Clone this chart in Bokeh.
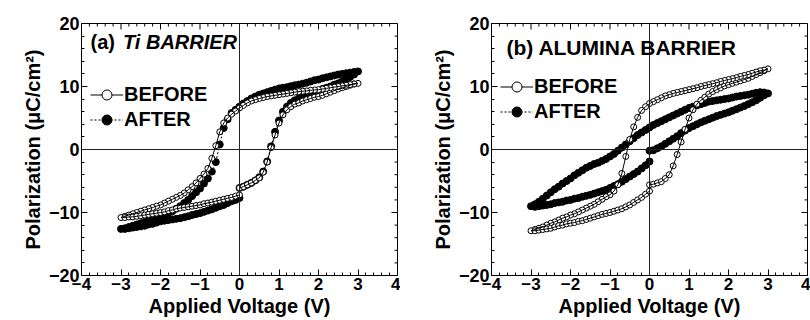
from bokeh.plotting import figure
from bokeh.models import Range1d, Span, FixedTicker, Label, Legend, LegendItem
from bokeh.layouts import row
from bokeh.embed import file_html
from bokeh.resources import INLINE

# ---------------- data (voltage sweep 0 -> +3 -> -3 -> 0, step 0.1 V) ----------------
V_UP = [0.0, 0.1, 0.2, 0.3, 0.4, 0.5, 0.6, 0.7, 0.8, 0.9, 1.0, 1.1, 1.2, 1.3, 1.4, 1.5,
        1.6, 1.7, 1.8, 1.9, 2.0, 2.1, 2.2, 2.3, 2.4, 2.5, 2.6, 2.7, 2.8, 2.9, 3.0]
V_DOWN = [2.9, 2.8, 2.7, 2.6, 2.5, 2.4, 2.3, 2.2, 2.1, 2.0, 1.9, 1.8, 1.7, 1.6, 1.5, 1.4,
          1.3, 1.2, 1.1, 1.0, 0.9, 0.8, 0.7, 0.6, 0.5, 0.4, 0.3, 0.2, 0.1, 0.0, -0.1, -0.2,
          -0.3, -0.4, -0.5, -0.6, -0.7, -0.8, -0.9, -1.0, -1.1, -1.2, -1.3, -1.4, -1.5, -1.6,
          -1.7, -1.8, -1.9, -2.0, -2.1, -2.2, -2.3, -2.4, -2.5, -2.6, -2.7, -2.8, -2.9, -3.0]
V_RET = [-2.9, -2.8, -2.7, -2.6, -2.5, -2.4, -2.3, -2.2, -2.1, -2.0, -1.9, -1.8, -1.7, -1.6,
         -1.5, -1.4, -1.3, -1.2, -1.1, -1.0, -0.9, -0.8, -0.7, -0.6, -0.5, -0.4, -0.3, -0.2,
         -0.1, 0.0]

# (a) Ti barrier
TI_BEFORE_UP = [-6.1, -5.9, -5.6, -5.3, -4.9, -4.5, -3.6, -2.0, 0.3, 2.3, 4.2, 5.5, 6.3, 6.8,
                7.2, 7.4, 7.7, 7.9, 8.1, 8.3, 8.4, 8.6, 8.85, 9.1, 9.35, 9.6, 9.8, 10.0, 10.2,
                10.4, 10.5]
TI_BEFORE_DOWN = [10.4, 10.3, 10.2, 10.1, 10.0, 9.9, 9.8, 9.7, 9.6, 9.5,
                  9.45, 9.4, 9.3, 9.25, 9.2, 9.1, 9.0, 8.9, 8.8, 8.7,
                  8.6, 8.5, 8.4, 8.25, 8.1, 7.9, 7.7, 7.4, 7.0, 6.6,
                  6.1, 5.6, 5.0, 4.2, 2.8, 0.6, -1.4, -3.0, -3.9, -4.6,
                  -5.3, -5.9, -6.4, -6.9, -7.3, -7.6, -7.9, -8.2, -8.5, -8.8,
                  -9.0, -9.2, -9.4, -9.6, -9.8, -10.0, -10.2, -10.4, -10.6, -10.8]
TI_BEFORE_RET = [-10.8, -10.7, -10.7, -10.6, -10.5, -10.4, -10.3, -10.2, -10.1, -10.0,
                 -9.9, -9.7, -9.6, -9.4, -9.3, -9.2, -9.1, -9.0, -8.9, -8.8,
                 -8.6, -8.5, -8.35, -8.2, -8.05, -7.9, -7.75, -7.6, -7.4, -7.2]
TI_AFTER_UP = [-6.1, -5.9, -5.6, -5.3, -4.9, -4.4, -3.5, -1.9, 0.5, 2.8, 4.6, 6.0, 6.8, 7.4,
               7.8, 8.1, 8.4, 8.7, 8.9, 9.1, 9.3, 9.6, 9.8, 10.0, 10.3, 10.5, 10.8, 11.1,
               11.5, 11.9, 12.4]
TI_AFTER_DOWN = [12.3, 12.2, 12.1, 12.0, 11.9, 11.75, 11.6, 11.45, 11.3, 11.1,
                 11.0, 10.8, 10.6, 10.45, 10.3, 10.2, 10.05, 9.9, 9.8, 9.7,
                 9.5, 9.3, 9.1, 8.9, 8.7, 8.4, 8.1, 7.7, 7.3, 6.8,
                 6.3, 5.8, 4.8, 3.4, 0.8, -2.0, -3.5, -4.6, -5.4, -6.2,
                 -6.8, -7.4, -8.0, -8.5, -9.0, -9.4, -9.8, -10.1, -10.4, -10.6,
                 -10.8, -11.0, -11.3, -11.5, -11.7, -11.9, -12.1, -12.3, -12.5, -12.6]
TI_AFTER_RET = [-12.6, -12.5, -12.4, -12.3, -12.2, -12.1, -11.9, -11.8, -11.6, -11.4,
                -11.3, -11.2, -11.1, -11.0, -10.9, -10.75, -10.6, -10.4, -10.25, -10.1,
                -9.9, -9.7, -9.5, -9.25, -9.0, -8.8, -8.5, -8.2, -8.0, -7.7]

# (b) Alumina barrier
AL_BEFORE_UP = [-5.6, -5.5, -5.3, -5.1, -4.6, -4.0, -2.6, -0.8, 1.2, 3.2, 5.0, 6.3, 7.2, 7.8,
                8.3, 8.8, 9.2, 9.5, 9.8, 10.1, 10.3, 10.5, 10.7, 10.9, 11.1, 11.3, 11.6, 11.9,
                12.2, 12.5, 12.8]
AL_BEFORE_DOWN = [12.6, 12.5, 12.3, 12.1, 11.9, 11.75, 11.6, 11.4, 11.25, 11.1,
                  10.95, 10.8, 10.6, 10.45, 10.3, 10.15, 10.0, 9.8, 9.65, 9.5,
                  9.35, 9.2, 9.05, 8.9, 8.7, 8.5, 8.2, 7.9, 7.6, 7.3,
                  6.8, 6.2, 5.1, 3.6, 1.6, -1.1, -3.8, -5.6, -6.6, -7.2,
                  -7.5, -7.9, -8.3, -8.7, -9.0, -9.3, -9.6, -9.9, -10.2, -10.4,
                  -10.7, -10.9, -11.2, -11.5, -11.7, -12.0, -12.3, -12.5, -12.7, -12.9]
AL_BEFORE_RET = [-12.9, -12.8, -12.7, -12.6, -12.5, -12.3, -12.1, -12.0, -11.8, -11.7,
                 -11.6, -11.4, -11.3, -11.1, -10.9, -10.7, -10.5, -10.3, -10.15, -10.0,
                 -9.8, -9.6, -9.4, -9.1, -8.8, -8.4, -8.0, -7.6, -7.1, -6.6]
AL_AFTER_UP = [-0.2, -0.1, 0.2, 0.5, 0.9, 1.3, 1.7, 2.1, 2.6, 3.0, 3.4, 3.7, 4.0, 4.3, 4.55,
               4.8, 5.05, 5.3, 5.5, 5.7, 5.9, 6.15, 6.4, 6.65, 6.9, 7.2, 7.5, 7.8, 8.2, 8.6,
               8.9]
AL_AFTER_DOWN = [9.05, 9.1, 9.0, 8.85, 8.7, 8.6, 8.5, 8.4, 8.25, 8.1,
                 8.0, 7.9, 7.8, 7.7, 7.6, 7.4, 7.2, 7.0, 6.8, 6.6,
                 6.3, 6.0, 5.7, 5.4, 5.1, 4.8, 4.5, 4.2, 3.9, 3.5,
                 3.1, 2.7, 2.3, 1.8, 1.3, 0.8, 0.3, -0.2, -0.7, -1.1,
                 -1.5, -1.8, -2.1, -2.3, -2.6, -2.9, -3.3, -3.7, -4.1, -4.6,
                 -5.0, -5.4, -5.9, -6.3, -6.8, -7.3, -7.8, -8.3, -8.7, -9.0]
AL_AFTER_RET = [-9.1, -9.0, -8.9, -8.8, -8.7, -8.5, -8.4, -8.3, -8.1, -8.0,
                -7.8, -7.7, -7.5, -7.35, -7.2, -7.0, -6.8, -6.6, -6.4, -6.1,
                -5.8, -5.5, -5.1, -4.7, -4.3, -3.9, -3.5, -3.0, -2.5, -1.9]

X_TICKS = [-4, -3, -2, -1, 0, 1, 2, 3, 4]
Y_TICKS = [-20, -10, 0, 10, 20]
SERIES_NAMES = ["BEFORE", "AFTER"]
PANEL_TITLES = [("(a)", "Ti BARRIER"), ("(b)", "ALUMINA BARRIER")]

FONT = "Liberation Sans"
V_ALL = V_UP + V_DOWN + V_RET
X0, X1, Y0, Y1 = -4, 4, -20, 20
FRAME_W, FRAME_H = 316, 252


def make_panel(before, after, left_border, legend_y):
    p = figure(frame_width=FRAME_W, frame_height=FRAME_H, output_backend="svg",
               toolbar_location=None, x_range=Range1d(X0, X1), y_range=Range1d(Y0, Y1),
               min_border_left=left_border, min_border_right=3, min_border_top=23,
               min_border_bottom=45, background_fill_color="white")
    p.xgrid.visible = False
    p.ygrid.visible = False
    p.outline_line_color = "black"

    minor_x = [round(X0 + 0.2 * i, 1) for i in range(41)]
    minor_y = [Y0 + 2 * i for i in range(21)]
    p.xaxis.ticker = FixedTicker(ticks=X_TICKS, minor_ticks=minor_x)
    p.yaxis.ticker = FixedTicker(ticks=Y_TICKS, minor_ticks=minor_y)
    p.xaxis.axis_label = "Applied Voltage (V)"
    p.yaxis.axis_label = "Polarization (\u03bcC/cm\u00b2)"
    for ax in list(p.xaxis) + list(p.yaxis):
        ax.axis_line_color = "black"
        ax.major_tick_in = 6
        ax.major_tick_out = 0
        ax.minor_tick_in = 3
        ax.minor_tick_out = 0
        ax.major_tick_line_color = "black"
        ax.minor_tick_line_color = "black"
        ax.major_label_text_font = FONT
        ax.major_label_text_font_style = "bold"
        ax.major_label_text_color = "black"
        ax.major_label_standoff = 2
        ax.axis_label_text_font = FONT
        ax.axis_label_text_font_style = "bold"
        ax.axis_label_text_font_size = "20px"
        ax.axis_label_text_color = "black"
        ax.axis_label_standoff = 2
    p.xaxis.major_label_text_font_size = "17px"
    p.yaxis.major_label_text_font_size = "18px"

    # mirrored inward ticks on top and right edges (no labels)
    dx = (X1 - X0) / FRAME_W
    dy = (Y1 - Y0) / FRAME_H
    tlen = [6 * dy if v in X_TICKS else 3 * dy for v in minor_x]
    p.segment(x0=minor_x, y0=[Y1] * len(minor_x), x1=minor_x,
              y1=[Y1 - l for l in tlen], line_color="black", line_width=1)
    rlen = [6 * dx if v in Y_TICKS else 3 * dx for v in minor_y]
    p.segment(x0=[X1] * len(minor_y), y0=minor_y, x1=[X1 - l for l in rlen],
              y1=minor_y, line_color="black", line_width=1)

    p.add_layout(Span(location=0, dimension="width", line_color="#222222", line_width=1))
    p.add_layout(Span(location=0, dimension="height", line_color="#222222", line_width=1))

    # AFTER: filled circles, dotted line
    la = p.line(V_ALL, after, line_color="black", line_width=1, line_dash="2 2")
    sa = p.scatter(V_ALL, after, marker="circle", size=7, fill_color="black",
                   line_color="black")
    # BEFORE: open circles, solid line
    sb = p.scatter(V_ALL, before, marker="circle", size=6, fill_color="white",
                   line_color="black", line_width=1)
    lb = p.line(V_ALL, before, line_color="black", line_width=1)

    legend = Legend(items=[LegendItem(label=SERIES_NAMES[0], renderers=[lb, sb]),
                           LegendItem(label=SERIES_NAMES[1], renderers=[la, sa])],
                    location=(9, legend_y), orientation="vertical",
                    label_text_font=FONT, label_text_font_style="bold",
                    label_text_font_size="20px", label_text_color="black",
                    glyph_width=33, glyph_height=25, label_height=25, label_standoff=1,
                    spacing=0, padding=0, margin=0,
                    border_line_alpha=0, background_fill_alpha=0)
    p.add_layout(legend)
    return p


pa = make_panel(TI_BEFORE_UP + TI_BEFORE_DOWN + TI_BEFORE_RET,
                TI_AFTER_UP + TI_AFTER_DOWN + TI_AFTER_RET, 81, 143)
pa.add_layout(Label(x=-3.77, y=17.0, text=PANEL_TITLES[0][0], text_font=FONT,
                    text_font_size="20px", text_font_style="bold", text_baseline="middle",
                    text_color="black"))
pa.add_layout(Label(x=-2.95, y=17.0, text=PANEL_TITLES[0][1], text_font=FONT,
                    text_font_size="20px", text_font_style="bold italic",
                    text_baseline="middle", text_color="black"))

pb = make_panel(AL_BEFORE_UP + AL_BEFORE_DOWN + AL_BEFORE_RET,
                AL_AFTER_UP + AL_AFTER_DOWN + AL_AFTER_RET, 91, 151)
pb.add_layout(Label(x=-3.62, y=16.2, text=PANEL_TITLES[1][0] + " " + PANEL_TITLES[1][1],
                    text_font=FONT, text_font_size="21px", text_font_style="bold",
                    text_baseline="middle", text_color="black"))

layout = row(pa, pb)
open("out.html", "w").write(file_html(layout, INLINE))
